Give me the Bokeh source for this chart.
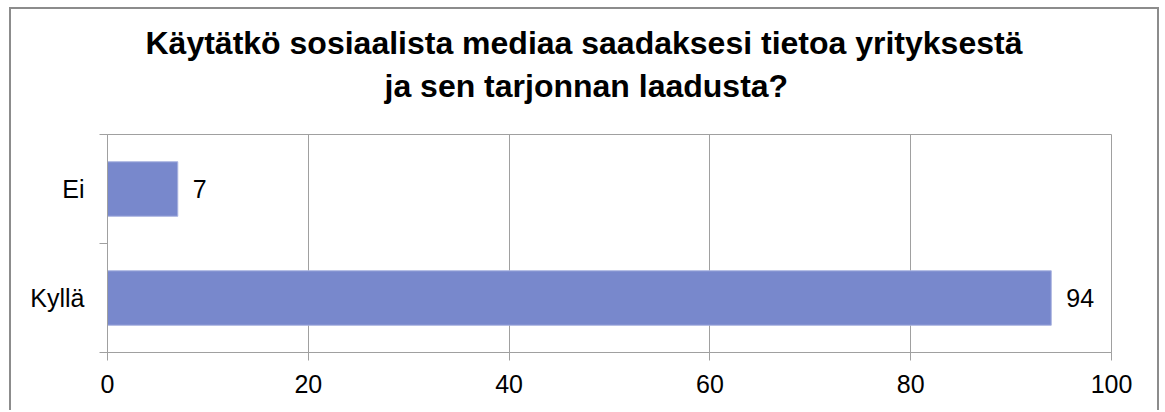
from bokeh.plotting import figure
from bokeh.models import Range1d, FixedTicker, ColumnDataSource, LabelSet, Title
from bokeh.core.properties import value
from bokeh.embed import file_html
from bokeh.resources import INLINE

categories = ["Kyllä", "Ei"]
counts = [94, 7]
x_ticks = [0, 20, 40, 60, 80, 100]
title_lines = ["Käytätkö sosiaalista mediaa saadaksesi tietoa yrityksestä",
               "ja sen tarjonnan laadusta?"]

FONT = "Liberation Sans"
GRID = "#A0A0A0"
BAR = "#7888CC"
EDGE = "2px solid #8C8C8C"

pos = [i + 0.5 for i in range(len(categories))]
src = ColumnDataSource(dict(cat=categories, count=counts, y=pos,
                            label=[str(c) for c in counts]))

p = figure(width=1150, height=403, output_backend="svg", toolbar_location=None,
           x_range=Range1d(0, 100), y_range=Range1d(0, len(categories)),
           min_border_left=96, min_border_right=50, min_border_top=125,
           min_border_bottom=60)
p.styles = {"margin-left": "9px", "margin-top": "7px",
            "border-top": EDGE, "border-left": EDGE, "border-right": EDGE}
p.background_fill_color = "white"
p.border_fill_color = "white"
p.outline_line_color = GRID

p.hbar(y="y", left=0, right="count", height=0.5, source=src,
       fill_color=BAR, line_color="#A9B3E0", line_width=1)

labels = LabelSet(x="count", y="y", text="label", source=src, x_offset=15,
                  text_baseline="middle", text_font=value(FONT),
                  text_font_size="25px", text_color="black")
p.add_layout(labels)

# x axis
p.xaxis.ticker = FixedTicker(ticks=x_ticks)
p.xaxis.axis_line_color = GRID
p.xaxis.major_tick_line_color = GRID
p.xaxis.major_tick_out = 8
p.xaxis.major_tick_in = 0
p.xaxis.minor_tick_line_color = None
p.xaxis.major_label_text_font = FONT
p.xaxis.major_label_text_font_size = "25px"
p.xaxis.major_label_text_color = "black"
p.xaxis.major_label_standoff = 14
p.xgrid.ticker = FixedTicker(ticks=x_ticks)
p.xgrid.grid_line_color = GRID
p.ygrid.grid_line_color = None

# y axis: labels at category centres, ticks at category boundaries
p.yaxis.ticker = FixedTicker(ticks=pos, minor_ticks=list(range(len(categories) + 1)))
p.yaxis.major_label_overrides = {y: c for y, c in zip(pos, categories)}
p.yaxis.axis_line_color = GRID
p.yaxis.major_tick_line_color = None
p.yaxis.major_tick_out = 0
p.yaxis.major_tick_in = 0
p.yaxis.minor_tick_line_color = GRID
p.yaxis.minor_tick_out = 8
p.yaxis.minor_tick_in = 0
p.yaxis.major_label_text_font = FONT
p.yaxis.major_label_text_font_size = "25px"
p.yaxis.major_label_text_color = "black"
p.yaxis.major_label_standoff = 15

p.title.visible = False
# spacer between plot frame and the two title lines
p.add_layout(Title(text=" ", text_font_size="1px", standoff=23), "above")
p.add_layout(Title(text=title_lines[1], align="left", offset=277, standoff=10,
                   text_font=FONT, text_font_size="32px", text_font_style="bold",
                   text_color="black"), "above")
p.add_layout(Title(text=title_lines[0], align="left", offset=38, standoff=0,
                   text_font=FONT, text_font_size="32px", text_font_style="bold",
                   text_color="black"), "above")

open("out.html", "w").write(file_html(p, INLINE))
